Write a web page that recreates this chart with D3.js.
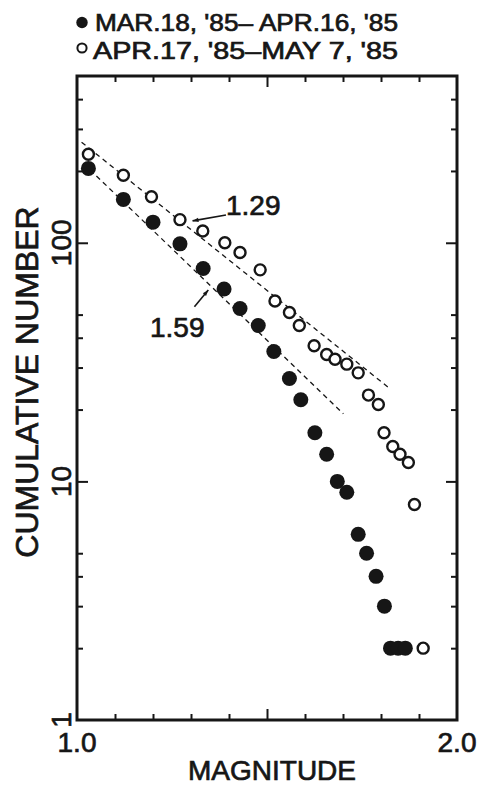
<!DOCTYPE html>
<html>
<head>
<meta charset="utf-8">
<script src="https://cdn.jsdelivr.net/npm/d3@7"></script>
<style>
body { margin: 0; background: #fff; }
text { font-family: "Liberation Sans", Arial, sans-serif; fill: #161616; stroke: #161616; stroke-width: 0.7; }
.tick line { stroke: #161616; stroke-width: 2; }
</style>
</head>
<body>
<svg id="chart" width="480" height="787"></svg>
<script>
// values: magnitude vs cumulative number
var filledMag = [1.03, 1.122, 1.20, 1.271, 1.332, 1.387, 1.429, 1.477, 1.518, 1.559, 1.589,
  1.626, 1.657, 1.685, 1.710, 1.740, 1.762, 1.787, 1.809, 1.825, 1.845, 1.864];
var filledNum = [205, 152, 122, 99, 78, 64, 53, 45, 35, 27, 22, 16, 13, 10, 9, 6, 5, 4, 3, 2, 2, 2];

var openMag = [1.030, 1.122, 1.196, 1.271, 1.331, 1.389, 1.429, 1.482, 1.521, 1.559, 1.585, 1.624,
  1.657, 1.679, 1.710, 1.740, 1.767, 1.793, 1.808, 1.831, 1.850, 1.872, 1.888, 1.911];
var openNum = [235, 192, 156, 125, 112, 100, 91, 77, 57, 51, 45, 37, 34, 32.5, 31, 28.5, 23, 21,
  16, 14, 13, 12, 8, 2];

// dashed b-value lines, [magnitude, number] at each end
var fitLabels = ["1.29", "1.59"];
var fitStart = [[1.012, 264], [1.017, 215]];
var fitEnd = [[1.819, 24.8], [1.701, 19.2]];
// label anchor and arrow (tail -> tip) for each fit line
var fitLabelAt = [[1.392, 131], [1.192, 40.2]];
var fitArrowTail = [[1.392, 130.8], [1.309, 53.9]];
var fitArrowTip = [[1.304, 123.5], [1.3455, 63.4]];

var legendLabels = ["MAR.18, '85\u2013 APR.16, '85", "APR.17, '85\u2013MAY 7, '85"];

var xTicks = [1.1, 1.2, 1.3, 1.4, 1.5, 1.6, 1.7, 1.8, 1.9];
var xMajor = [1.5];
var xLabels = [1.0, 2.0];
var yTicks = [2, 3, 4, 5, 10, 20, 30, 40, 50, 100, 200, 300, 400];
var yMajor = [10, 100];
var yLabels = [1, 10, 100];

var svg = d3.select("#chart"),
  margin = {top: 76, right: 23, bottom: 67, left: 77},
  width = 480 - margin.left - margin.right,
  height = 787 - margin.top - margin.bottom;

var g = svg.append("g")
  .attr("transform", "translate(" + margin.left + "," + margin.top + ")");

var x = d3.scaleLinear().domain([1, 2]).range([0, width]);
var y = d3.scaleLog().domain([1, 500]).range([height, 0]);

// inward ticks on all four sides
function inward(sel, isMajor, dim) {
  sel.select(".domain").remove();
  sel.selectAll(".tick line").attr(dim, function (d) {
    var len = isMajor(d) ? 11 : 6;
    return +d3.select(this).attr(dim) < 0 ? -len : len;
  });
}
var isMajorX = function (d) { return xMajor.indexOf(d) >= 0; };
var isMajorY = function (d) { return yMajor.indexOf(d) >= 0; };

g.append("g").attr("transform", "translate(0," + height + ")")
  .call(d3.axisBottom(x).tickValues(xTicks).tickSize(-6).tickFormat(""))
  .call(inward, isMajorX, "y2");
g.append("g")
  .call(d3.axisTop(x).tickValues(xTicks).tickSize(-6).tickFormat(""))
  .call(inward, isMajorX, "y2");
g.append("g")
  .call(d3.axisLeft(y).tickValues(yTicks).tickSize(-6).tickFormat(""))
  .call(inward, isMajorY, "x2");
g.append("g").attr("transform", "translate(" + width + ",0)")
  .call(d3.axisRight(y).tickValues(yTicks).tickSize(-6).tickFormat(""))
  .call(inward, isMajorY, "x2");

// frame
g.append("rect")
  .attr("width", width)
  .attr("height", height)
  .attr("fill", "none")
  .attr("stroke", "#161616")
  .attr("stroke-width", 3);

// tick labels
g.selectAll(".xlab")
  .data(xLabels)
  .enter()
  .append("text")
  .attr("x", function (d) { return x(d); })
  .attr("y", height + 32)
  .attr("text-anchor", "middle")
  .style("font-size", "28px")
  .text(function (d) { return d.toFixed(1); });

g.selectAll(".ylab")
  .data(yLabels)
  .enter()
  .append("text")
  .attr("transform", function (d) { return "translate(-6," + y(d) + ") rotate(-90)"; })
  .attr("text-anchor", "middle")
  .style("font-size", "28px")
  .text(function (d) { return d; });

// axis titles
g.append("text")
  .attr("transform", "translate(" + (width / 2 + 5) + "," + (height + 60) + ")")
  .attr("text-anchor", "middle")
  .style("font-size", "28px")
  .text("MAGNITUDE");

g.append("text")
  .attr("transform", "translate(-39,306) rotate(-90)")
  .attr("text-anchor", "middle")
  .style("font-size", "32px")
  .text("CUMULATIVE NUMBER");

// dashed fit lines
var line = d3.line()
  .x(function (d) { return x(d[0]); })
  .y(function (d) { return y(d[1]); });

g.selectAll(".fit")
  .data(fitLabels)
  .enter()
  .append("path")
  .attr("d", function (d, i) { return line([fitStart[i], fitEnd[i]]); })
  .attr("fill", "none")
  .attr("stroke", "#161616")
  .attr("stroke-width", 1.3)
  .attr("stroke-dasharray", "5,4");

svg.append("defs").append("marker")
  .attr("id", "arrow")
  .attr("viewBox", "0 0 10 10")
  .attr("refX", 10)
  .attr("refY", 5)
  .attr("markerWidth", 9)
  .attr("markerHeight", 6)
  .attr("markerUnits", "userSpaceOnUse")
  .attr("orient", "auto")
  .append("path")
  .attr("d", "M0,1.5 L10,5 L0,8.5 Z")
  .attr("fill", "#161616");

g.selectAll(".arrow")
  .data(fitLabels)
  .enter()
  .append("line")
  .attr("x1", function (d, i) { return x(fitArrowTail[i][0]); })
  .attr("y1", function (d, i) { return y(fitArrowTail[i][1]); })
  .attr("x2", function (d, i) { return x(fitArrowTip[i][0]); })
  .attr("y2", function (d, i) { return y(fitArrowTip[i][1]); })
  .attr("stroke", "#161616")
  .attr("stroke-width", 1.6)
  .attr("marker-end", "url(#arrow)");

g.selectAll(".fitlab")
  .data(fitLabels)
  .enter()
  .append("text")
  .attr("x", function (d, i) { return x(fitLabelAt[i][0]); })
  .attr("y", function (d, i) { return y(fitLabelAt[i][1]); })
  .style("font-size", "28px")
  .text(function (d) { return d; });

// points
g.append("g")
  .selectAll("circle")
  .data(openMag)
  .enter()
  .append("circle")
  .attr("cx", function (d) { return x(d); })
  .attr("cy", function (d, i) { return y(openNum[i]); })
  .attr("r", 5.5)
  .attr("fill", "#fff")
  .attr("stroke", "#161616")
  .attr("stroke-width", 2.4);

g.append("g")
  .selectAll("circle")
  .data(filledMag)
  .enter()
  .append("circle")
  .attr("cx", function (d) { return x(d); })
  .attr("cy", function (d, i) { return y(filledNum[i]); })
  .attr("r", 7.5)
  .attr("fill", "#161616");

// legend
var legend = svg.append("g");
legend.append("circle")
  .attr("cx", 82).attr("cy", 22.5).attr("r", 5.7)
  .attr("fill", "#161616");
legend.append("circle")
  .attr("cx", 82).attr("cy", 48).attr("r", 4.6)
  .attr("fill", "#fff")
  .attr("stroke", "#161616")
  .attr("stroke-width", 2);
legend.selectAll("text")
  .data(legendLabels)
  .enter()
  .append("text")
  .attr("x", function (d, i) { return i === 0 ? 95 : 93; })
  .attr("y", function (d, i) { return 31 + i * 28; })
  .attr("textLength", function (d, i) { return i === 0 ? 303 : 305; })
  .attr("lengthAdjust", "spacingAndGlyphs")
  .style("font-size", "24px")
  .text(function (d) { return d; });
</script>
</body>
</html>
